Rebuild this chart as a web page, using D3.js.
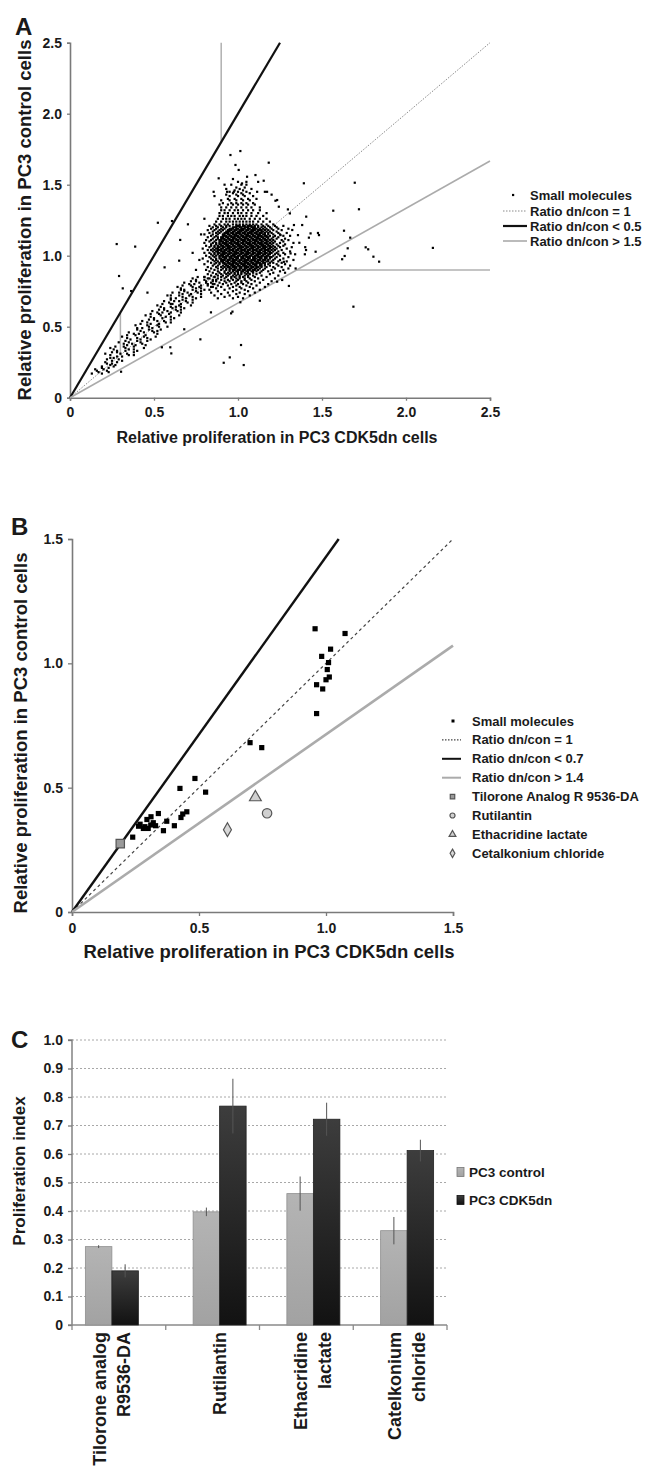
<!DOCTYPE html>
<html><head><meta charset="utf-8">
<script src="https://cdn.jsdelivr.net/npm/d3@7"></script>
<style>
body{margin:0;background:#fff}
svg{display:block}
text{font-family:"Liberation Sans",Arial,sans-serif;font-weight:bold;fill:#1a1a1a}
</style>
</head><body><svg id="c" width="650" height="1466"></svg>
<script>
// ================= DATA =================
// Panel A
const aTicks = [0, 0.5, 1.0, 1.5, 2.0, 2.5];
const aRatios = [1, 0.5, 1.5];              // dn/con ratio lines
const aLegend = ["Small molecules", "Ratio dn/con = 1", "Ratio dn/con < 0.5", "Ratio dn/con > 1.5"];
const aThresholds = [[[0.9,1.8],[0.9,2.5]], [[1.35,0.9],[2.5,0.9]], [[0.3,0.3],[0.3,0.6]]];
// small molecules, rows "y:x x x" (hundredths)
const aTail =
"17:13 19|18:17 23|19:16 22|20:20 15|21:23 19|22:26 19|23:24 27|24:22 25|25:21 28|26:25 31|27:22 29|28:26 24|29:31 28|30:38 24 35|31:30 21 34|32:28 38 25|33:33 40 28|34:35 26 38|35:33 44 24|36:38 32 27|37:39 34 45|38:32 43 37|39:29 42 35|40:46 33 40|41:48 36 42|42:34 46 40|43:51 31 44|44:39 34 45|45:41 52 38|46:50 44 35|47:49 42 52|48:40 47 54|49:43 49 40|50:53 47 58|51:39 52 46|52:42 53 48|53:60 46 57|54:52 43 56|55:50 60 47|56:55 62 50|57:57 48 60|58:54 65 45|59:59 53 48|60:60 55 66 52|61:64 58 49|62:63 56 66 53|63:61 68 56|64:63 54 66 60|65:72 52 65|66:60 55 66 61|67:73 59 70|68:65 56 69 62|69:73 60 67|70:75 63 69 60|71:73 67 78|72:58 71 65 60|73:72 67 78|74:65 76 70 61|75:75 68 78|76:66 73 80 68|77:75 66 78|78:73 84 64 77|79:72 67 78|80:74 85 71 82|81:77 68 81|82:75 85 72|83:80 87 75|84:82 73|85:86 80";
const aCluster =
"70:88 97 103|71:92 100|72:86 95 107|73:90 99 104|74:84 94 101 110|75:88 97 106|76:83 92 99 104 113|77:87 95 102 109|78:85 90 97 101 107 116|79:82 88 94 99 105 111|80:86 91 96 100 103 108 118|81:84 89 93 98 102 106 113|82:81 87 92 95 99 102 105 110 120|83:85 90 94 97 100 104 108 115|84:83 88 92 96 99 101 104 107 112 122|85:80 86 90 93 96 98 101 103 106 110 117|86:84 88 91 94 97 99 101 104 106 109 114 124|87:82 87 90 93 95 98 100 102 105 107 111 119|88:85 89 92 94 96 98 100 102 104 106 109 113 121 128|" +
"89:83 88 92 95 97 99 100 102 103 105 106 108 109 111 114 118 125|90:81 86 90 93 95 97 98 100 101 103 104 106 107 109 110 112 115 120 127|91:84 88 91 93 95 96 98 99 101 102 104 105 107 108 110 111 113 116 122 130|92:82 87 90 92 94 95 97 98 99 101 102 104 105 106 108 109 111 112 114 117 121 126|93:85 88 91 93 94 96 97 98 100 101 103 104 105 107 108 110 111 113 114 116 119 124 131|94:80 86 89 92 93 95 96 97 99 100 102 103 104 106 107 109 110 111 113 114 116 118 123 128|95:84 87 89 91 92 94 95 97 98 99 101 102 104 105 106 108 109 111 112 113 115 116 119 121 126|96:82 86 88 90 91 93 94 96 97 98 100 101 103 104 105 107 108 110 111 112 114 115 117 118 120 124 129|97:85 87 90 91 92 94 95 97 98 99 101 102 104 105 106 108 109 110 112 113 115 116 118 121 125 133|98:79 84 87 89 90 92 93 95 96 97 99 100 102 103 104 106 107 109 110 111 113 114 116 117 119 122 127|99:83 86 89 91 92 93 95 96 98 99 100 102 103 105 106 107 109 110 112 113 114 116 117 119 120 123 130|100:81 85 87 89 90 91 93 94 96 97 98 100 101 103 104 105 107 108 110 111 112 114 115 117 118 121 125|" +
"101:84 86 88 90 91 92 94 95 97 98 99 101 102 104 105 106 108 109 111 112 113 115 116 118 119 122 124 128 134|102:80 83 86 88 89 91 92 93 95 96 98 99 100 102 103 105 106 107 109 110 112 113 114 116 117 119 120 123 127|103:85 87 88 90 91 92 94 95 97 98 99 101 102 104 105 106 108 109 111 112 113 115 116 118 119 121 124 131|104:82 84 86 88 89 90 92 93 95 96 97 99 100 102 103 104 106 107 109 110 111 113 114 116 117 118 120 122 126|105:79 85 87 88 90 91 93 94 95 97 98 100 101 102 104 105 107 108 109 111 112 114 115 116 118 119 121 123 129|106:83 86 88 89 91 92 94 95 96 98 99 101 102 103 105 106 108 109 110 112 113 115 116 117 119 120 122 125 132|107:81 84 86 88 90 91 93 94 95 97 98 100 101 102 104 105 107 108 109 111 112 114 115 116 118 119 121 124 127|108:84 87 89 90 92 93 94 96 97 99 100 101 103 104 106 107 108 110 111 113 114 115 117 118 120 123 128|109:80 85 87 89 91 92 93 95 96 98 99 100 102 103 105 106 107 109 110 112 113 114 116 117 119 121 125 133|110:83 86 89 90 91 93 94 96 97 98 100 101 103 104 105 107 108 110 111 112 114 115 117 118 120 122 127|" +
"111:81 84 87 89 90 92 93 95 96 97 99 100 102 103 104 106 107 109 110 111 113 114 116 117 119 121 126 130|112:85 88 90 91 92 94 95 97 98 99 101 102 104 105 106 108 109 111 112 113 115 116 118 120 123 128|113:82 86 88 90 91 93 94 96 97 98 100 101 103 104 105 107 108 110 111 112 114 115 117 118 121 124|114:84 87 91 92 93 95 96 98 99 100 102 103 105 106 107 109 110 112 113 114 116 117 119 122 127 131|115:80 85 88 91 92 94 95 97 98 99 101 102 104 105 106 108 109 111 112 113 115 116 118 121 125|116:83 87 89 92 93 94 96 97 99 100 101 103 104 106 107 108 110 111 113 114 116 118 120 124 129|117:85 88 90 93 94 95 97 98 100 101 102 104 105 107 108 109 111 112 114 115 117 119 123|118:82 86 89 91 94 95 96 98 99 101 102 103 105 106 108 109 110 112 113 114 116 118 121 126|119:84 87 90 92 95 96 97 99 100 102 103 104 106 107 109 110 111 113 115 117 120 124 130|120:85 88 91 93 97 98 99 101 102 104 105 106 108 109 110 112 114 116 119 123|121:83 87 90 93 95 99 100 101 103 104 106 107 108 110 112 115 118 122 127|" +
"122:86 89 92 94 97 99 101 103 105 107 109 111 114 117 121|124:87 90 93 95 97 99 101 103 105 107 109 112 115 119|126:88 91 93 95 98 100 102 104 107 110 113 117|128:89 91 94 96 98 101 103 105 108 111 115|130:89 92 94 97 100 102 105 108 112 117|132:90 92 95 98 100 103 106 109 113|134:90 93 96 99 102 105 108 113|136:89 94 97 100 103 106 110|137:91 96 99 102 105 109|139:90 95 99 103 107|140:94 98 102 106 111|142:95 100 104 109|143:93 99 103|144:97 102 107|145:95 100 105|146:98 103|147:93 101 108|148:99 104|150:96 102|152:100 105|154:97";
const aOutliers = [[0.955,1.709],[1.014,1.737],[0.985,1.639],[1.004,1.604],[1.183,1.655],[0.885,1.545],[1.392,1.51],[1.695,1.514],[1.72,1.327],[1.567,1.317],[1.631,1.176],[1.668,1.127],[1.653,1.052],[1.62,0.975],[1.635,0.998],[1.76,1.059],[1.775,1.045],[1.806,0.993],[1.84,0.958],[1.687,0.641],[2.16,1.055],[0.523,1.232],[0.607,1.244],[0.278,1.082],[0.388,1.064],[0.292,0.857],[0.314,0.77],[0.364,0.751],[0.461,0.74],[0.702,1.221],[0.656,1.111],[0.563,0.918],[0.65,0.965],[0.915,0.246],[0.951,0.284],[1.034,0.23],[1.018,0.371],[0.776,0.411],[0.597,0.355],[0.603,0.312],[0.547,0.355],[0.304,0.183],[0.68,0.482],[0.959,0.594],[0.967,0.606],[1.13,0.683],[1.303,0.787],[1.263,0.829],[1.233,0.817],[1.014,0.672],[0.839,0.601],[1.406,1.275],[1.382,1.216],[1.432,1.157],[1.482,1.145],[1.476,1.16],[1.422,1.127],[1.40,1.06],[1.405,1.04],[1.398,1.01],[1.462,1.028],[1.357,1.145],[1.365,1.091],[1.333,1.216],[1.323,1.181],[1.297,1.326],[1.309,1.298],[1.253,1.145],[1.313,1.016],[1.273,0.957],[1.343,0.91],[1.233,1.392],[1.243,1.345],[0.935,1.45],[0.975,1.45],[1.024,1.509],[1.054,1.556],[1.104,1.568],[1.153,1.528],[1.114,1.45],[1.173,1.45],[1.223,1.387],[0.855,1.45],[0.92,1.5],[1.05,1.5],[1.12,1.52],[0.86,1.42],[1.16,1.45],[1.2,1.43],[0.75,0.9],[0.77,0.97],[0.73,1.02],[0.78,1.15],[0.8,1.26],[0.76,0.85]];

// Panel B
const bTicks = [0, 0.5, 1.0, 1.5];
const bRatios = [1, 0.7, 1.4];
const bSmall = [[0.957,1.139],[1.075,1.12],[1.018,1.057],[0.983,1.028],[1.010,1.003],[1.005,0.975],[1.013,0.945],[1.000,0.934],[0.963,0.914],[0.987,0.897],[0.963,0.798],[0.701,0.681],[0.747,0.661],[0.484,0.537],[0.425,0.497],[0.526,0.482],[0.452,0.403],[0.436,0.394],[0.429,0.380],[0.340,0.396],[0.311,0.383],[0.268,0.353],[0.287,0.343],[0.300,0.336],[0.320,0.359],[0.329,0.347],[0.281,0.336],[0.373,0.365],[0.360,0.327],[0.403,0.347],[0.239,0.301],[0.295,0.372],[0.262,0.345],[0.31,0.35]];
const bLegendLines = ["Small molecules", "Ratio dn/con = 1", "Ratio dn/con < 0.7", "Ratio dn/con > 1.4"];
const bCompounds = ["Tilorone Analog R 9536-DA", "Rutilantin", "Ethacridine lactate", "Cetalkonium chloride"];
const bShapes = ["square", "circle", "triangle", "diamond"];

// Panel C
const cTicks = [0, 0.1, 0.2, 0.3, 0.4, 0.5, 0.6, 0.7, 0.8, 0.9, 1.0];
const cCategories = [["Tilorone analog","R9536-DA"],["Rutilantin"],["Ethacridine","lactate"],["Catelkonium","chloride"]];
const cSeries = ["PC3 control", "PC3 CDK5dn"];
const cControl = [0.275, 0.397, 0.461, 0.331];
const cControlErr = [0.005, 0.015, 0.06, 0.048];
const cCdk5dn = [0.19, 0.768, 0.722, 0.612];
const cCdk5dnErr = [0.023, 0.096, 0.058, 0.038];

// ================= LAYOUT =================
const groupNudge = [-7, 7, 7, 7];   // horizontal placement of bar groups within their bands (px)

// ================= DRAW =================
const svg = d3.select("#c");
svg.append("rect").attr("width",650).attr("height",1466).attr("fill","#fff");
const AX = "#7a7a7a";
const fmt = d => d === 0 ? "0" : d3.format(".1f")(d);
function styleAxis(g, fs){
  g.select(".domain").attr("stroke", AX).attr("stroke-width", 1.6);
  g.selectAll(".tick line").attr("stroke", AX).attr("stroke-width", 1.3);
  g.selectAll(".tick text").attr("font-size", fs).attr("fill","#1a1a1a")
    .attr("font-family",'"Liberation Sans",Arial,sans-serif').attr("font-weight","bold");
}
function panelLetter(t, x, y){ svg.append("text").attr("x",x).attr("y",y).attr("font-size",24).text(t); }
function parseRows(s, out){
  s.split("|").forEach(r => {
    const [y, xs] = r.split(":");
    xs.trim().split(/\s+/).forEach(x => out.push([+x/100, +y/100]));
  });
}

// ---------- Panel A ----------
const xA = d3.scaleLinear().domain([0,2.5]).range([70,490]);
const yA = d3.scaleLinear().domain([0,2.5]).range([397.7,42.7]);
const lineStyleA = {1:{s:"#8a8a8a",w:1,d:"1.5,1.5"}, 0.5:{s:"#111",w:2.2,d:null}, 1.5:{s:"#ababab",w:1.6,d:null}};

panelLetter("A", 15, 35);
const gAy = svg.append("g").attr("transform","translate(70,0)")
  .call(d3.axisLeft(yA).tickValues(aTicks).tickSize(3).tickPadding(5).tickFormat(fmt));
styleAxis(gAy, 14);
const gAx = svg.append("g").attr("transform","translate(0,397.7)")
  .call(d3.axisBottom(xA).tickValues(aTicks).tickSize(3).tickPadding(6).tickFormat(fmt));
styleAxis(gAx, 14);

aThresholds.forEach(seg => {
  svg.append("line").attr("x1",xA(seg[0][0])).attr("y1",yA(seg[0][1]))
    .attr("x2",xA(seg[1][0])).attr("y2",yA(seg[1][1]))
    .attr("stroke","#b0b0b0").attr("stroke-width",1.5);
});
aRatios.forEach(r => {
  const xe = Math.min(2.5, 2.5*r), st = lineStyleA[r];
  svg.append("line").attr("x1",xA(0)).attr("y1",yA(0)).attr("x2",xA(xe)).attr("y2",yA(xe/r))
    .attr("stroke",st.s).attr("stroke-width",st.w).attr("stroke-dasharray",st.d);
});
const aPts = [];
parseRows(aTail, aPts); parseRows(aCluster, aPts);
aOutliers.forEach(p => aPts.push(p));
svg.append("g").selectAll("rect").data(aPts).join("rect")
  .attr("x", d => xA(d[0]) - 1.1).attr("y", d => yA(d[1]) - 1.1)
  .attr("width", 2.2).attr("height", 2.2).attr("fill", "#000");

svg.append("text").attr("x",277).attr("y",443).attr("text-anchor","middle").attr("font-size",16)
  .text("Relative proliferation in PC3 CDK5dn cells");
svg.append("text").attr("transform","translate(31,220) rotate(-90)").attr("text-anchor","middle").attr("font-size",18.5)
  .text("Relative proliferation in PC3 control cells");

const legA = svg.append("g");
const legARows = [195, 211, 226, 241];
aLegend.forEach((t,i) => {
  legA.append("text").attr("x",530).attr("y",legARows[i]).attr("dy","0.35em").attr("font-size",13).text(t);
});
legA.append("rect").attr("x",512).attr("y",legARows[0]-1.1).attr("width",2.2).attr("height",2.2).attr("fill","#000");
aRatios.forEach((r,i) => {
  const st = lineStyleA[r];
  legA.append("line").attr("x1",503).attr("x2",527).attr("y1",legARows[i+1]).attr("y2",legARows[i+1])
    .attr("stroke",st.s).attr("stroke-width",st.w).attr("stroke-dasharray",st.d);
});

// ---------- Panel B ----------
const xB = d3.scaleLinear().domain([0,1.5]).range([72,453]);
const yB = d3.scaleLinear().domain([0,1.5]).range([912,539]);
const lineStyleB = {1:{s:"#444",w:1.2,d:"3,3"}, 0.7:{s:"#111",w:2.4,d:null}, 1.4:{s:"#ababab",w:2.6,d:null}};

panelLetter("B", 11, 535);
const gBy = svg.append("g").attr("transform","translate(72,0)")
  .call(d3.axisLeft(yB).tickValues(bTicks).tickSize(4).tickPadding(5).tickFormat(fmt));
styleAxis(gBy, 14);
const gBx = svg.append("g").attr("transform","translate(0,912)")
  .call(d3.axisBottom(xB).tickValues(bTicks).tickSize(4).tickPadding(7).tickFormat(fmt));
styleAxis(gBx, 14);

bRatios.forEach(r => {
  const xe = Math.min(1.5, 1.5*r), st = lineStyleB[r];
  svg.append("line").attr("x1",xB(0)).attr("y1",yB(0)).attr("x2",xB(xe)).attr("y2",yB(xe/r))
    .attr("stroke",st.s).attr("stroke-width",st.w).attr("stroke-dasharray",st.d);
});
svg.append("g").selectAll("rect").data(bSmall).join("rect")
  .attr("x", d => xB(d[0]) - 2.6).attr("y", d => yB(d[1]) - 2.6)
  .attr("width", 5.2).attr("height", 5.2).attr("fill", "#000");

const shapeFill = {square:"#9a9a9a", circle:"#d0d0d0", triangle:"#d0d0d0", diamond:"#d8d8d8"};
const shapeSym = {square:d3.symbolSquare, circle:d3.symbolCircle, triangle:d3.symbolTriangle, diamond:d3.symbolDiamond};
function marker(g, shape, x, y, size){
  g.append("path").attr("d", d3.symbol().type(shapeSym[shape]).size(size)())
    .attr("transform", `translate(${x},${y})`)
    .attr("fill", shapeFill[shape]).attr("stroke", "#555").attr("stroke-width", 1.2);
}
bCompounds.forEach((c,i) => {
  marker(svg, bShapes[i], xB(cCdk5dn[i]), yB(cControl[i]), bShapes[i]==="diamond"?55:(bShapes[i]==="triangle"?60:70));
});

svg.append("text").attr("x",269).attr("y",958).attr("text-anchor","middle").attr("font-size",18.5)
  .text("Relative proliferation in PC3 CDK5dn cells");
svg.append("text").attr("transform","translate(27,733) rotate(-90)").attr("text-anchor","middle").attr("font-size",18.5)
  .text("Relative proliferation in PC3 control cells");

const legB = svg.append("g");
const legBy = i => 721 + i*18.9;
bLegendLines.concat(bCompounds).forEach((t,i) => {
  legB.append("text").attr("x",472).attr("y",legBy(i)).attr("dy","0.35em").attr("font-size",13).text(t);
});
legB.append("rect").attr("x",451.5).attr("y",legBy(0)-1.5).attr("width",3).attr("height",3).attr("fill","#000");
bRatios.forEach((r,i) => {
  const st = lineStyleB[r];
  legB.append("line").attr("x1",442).attr("x2",461).attr("y1",legBy(i+1)).attr("y2",legBy(i+1))
    .attr("stroke",st.s).attr("stroke-width",Math.min(st.w,2)).attr("stroke-dasharray",st.d?"1.5,1.5":null);
});
bShapes.forEach((s,i) => marker(legB, s, 452.5, legBy(i+4), 20));

// ---------- Panel C ----------
const yC = d3.scaleLinear().domain([0,1]).range([1325,1040]);
const catKeys = cCategories.map(c => c.join(" "));
const xC = d3.scaleBand().domain(catKeys).range([72,447]);
const barW = 26.5;

panelLetter("C", 11, 1048);
const defs = svg.append("defs");
const g1 = defs.append("linearGradient").attr("id","gGray").attr("x1",0).attr("y1",0).attr("x2",0).attr("y2",1);
g1.append("stop").attr("offset","0%").attr("stop-color","#b4b4b4");
g1.append("stop").attr("offset","100%").attr("stop-color","#a2a2a2");
const g2 = defs.append("linearGradient").attr("id","gDark").attr("x1",0).attr("y1",0).attr("x2",0).attr("y2",1);
g2.append("stop").attr("offset","0%").attr("stop-color","#3d3d3d");
g2.append("stop").attr("offset","100%").attr("stop-color","#121212");

svg.append("g").selectAll("line").data(cTicks.filter(d => d > 0)).join("line")
  .attr("x1",72).attr("x2",447).attr("y1",d => yC(d)).attr("y2",d => yC(d))
  .attr("stroke","#a8a8a8").attr("stroke-width",1).attr("stroke-dasharray","2,2");

const gCy = svg.append("g").attr("transform","translate(72,0)")
  .call(d3.axisLeft(yC).tickValues(cTicks).tickSize(4).tickPadding(5).tickFormat(fmt));
styleAxis(gCy, 14);
gCy.select(".domain").attr("d","M-4,1040H0V1325H-4").attr("stroke","#8a8a8a");
svg.append("line").attr("x1",72).attr("x2",447).attr("y1",1325).attr("y2",1325).attr("stroke","#8a8a8a").attr("stroke-width",1.6);
const bounds = catKeys.map(k => xC(k)).concat([xC(catKeys[catKeys.length-1]) + xC.bandwidth()]);
svg.append("g").selectAll("line").data(bounds).join("line")
  .attr("x1",d=>d).attr("x2",d=>d).attr("y1",1325).attr("y2",1330).attr("stroke","#8a8a8a").attr("stroke-width",1.3);

const bars = svg.append("g");
catKeys.forEach((k,i) => {
  const cx = xC(k) + xC.bandwidth()/2 + groupNudge[i];
  [[cControl[i], cControlErr[i], "url(#gGray)", "#8f8f8f", cx - barW],
   [cCdk5dn[i], cCdk5dnErr[i], "url(#gDark)", "#222", cx]].forEach(([v,e,f,s,x]) => {
    bars.append("rect").attr("x",x).attr("y",yC(v)).attr("width",barW).attr("height",yC(0)-yC(v))
      .attr("fill",f).attr("stroke",s).attr("stroke-width",0.8);
    bars.append("line").attr("x1",x+barW/2).attr("x2",x+barW/2).attr("y1",yC(v+e)).attr("y2",yC(v-e))
      .attr("stroke","#555").attr("stroke-width",1);
  });
  const lines = cCategories[i];
  lines.forEach((t,j) => {
    const lx = cx + (j - (lines.length-1)/2) * 24;
    svg.append("text").attr("transform",`translate(${lx},1332) rotate(-90)`)
      .attr("text-anchor","end").attr("dominant-baseline","central").attr("font-size",18).text(t);
  });
});

svg.append("text").attr("transform","translate(25,1171) rotate(-90)").attr("text-anchor","middle").attr("font-size",17)
  .text("Proliferation index");

const legC = svg.append("g");
cSeries.forEach((t,i) => {
  const y = 1172 + i*28;
  legC.append("rect").attr("x",457).attr("y",y-4.5).attr("width",7).attr("height",9)
    .attr("fill", i===0 ? "url(#gGray)" : "url(#gDark)").attr("stroke", i===0?"#777":"#111").attr("stroke-width",0.8);
  legC.append("text").attr("x",469).attr("y",y).attr("dy","0.35em").attr("font-size",13.5).text(t);
});
</script>
</body></html>
